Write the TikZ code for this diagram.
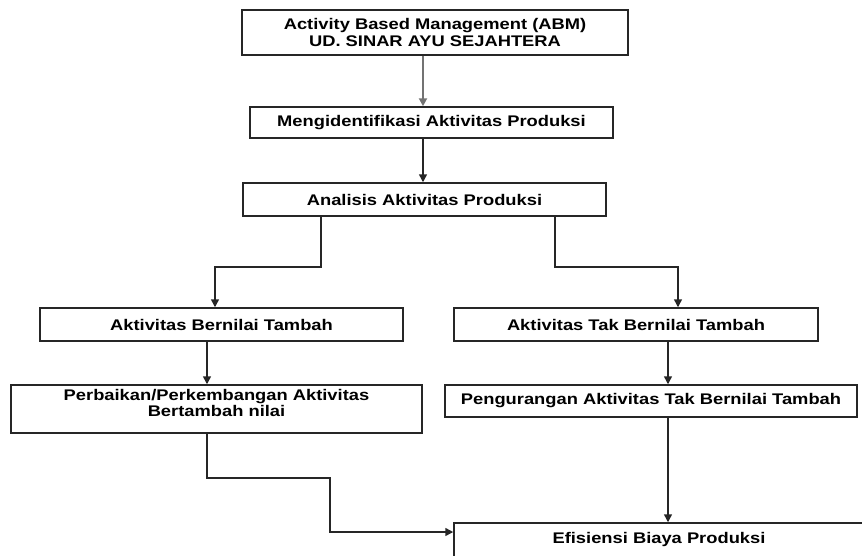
\documentclass[tikz,border=0pt]{standalone}
\usepackage{fontspec}
\setmainfont[FakeStretch=1.19]{Liberation Sans}
\usetikzlibrary{arrows.meta}

\begin{document}
\begin{tikzpicture}[x=1pt, y=-1pt,
    box/.style={draw=black!85, line width=1.5pt, align=center, inner sep=0pt,
        font=\fontsize{15.4}{16.5}\selectfont\bfseries},
    arr/.style={draw=black!85, line width=1.5pt, -{Triangle[length=8pt,width=8pt]}}]
    \useasboundingbox (0,0) rectangle (862,555);
    \clip (0,0) rectangle (862,555);
    \node[box, minimum width=386pt, minimum height=45pt] (abm) at (435,32.5)
        {Activity Based Management (ABM)\\UD. SINAR AYU SEJAHTERA};
    \node[box, minimum width=363pt, minimum height=31pt] (identifikasi) at (431.5,122.5)
        {Mengidentifikasi Aktivitas Produksi};
    \node[box, minimum width=363pt, minimum height=33pt] (analisis) at (424.5,199.5)
        {Analisis Aktivitas Produksi};
    \node[box, minimum width=363pt, minimum height=33pt] (bernilai) at (221.5,324.5)
        {Aktivitas Bernilai Tambah};
    \node[box, minimum width=364pt, minimum height=33pt] (takbernilai) at (636,324.5)
        {Aktivitas Tak Bernilai Tambah};
    \node[box, minimum width=411pt, minimum height=48pt] (perbaikan) at (216.5,409)
        {Perbaikan/Perkembangan Aktivitas\\Bertambah nilai\\[-4pt]};
    \node[box, minimum width=412pt, minimum height=32pt] (pengurangan) at (651,401)
        {Pengurangan Aktivitas Tak Bernilai Tambah};
    \node[box, minimum width=410pt, minimum height=34pt] (efisiensi) at (659,540)
        {Efisiensi Biaya Produksi};

    \draw[arr, draw=black!55, line width=2pt] ([xshift=-12pt]abm.south) -- ([xshift=-8.5pt]identifikasi.north);
    \draw[arr] ([xshift=-8.5pt]identifikasi.south) -- ([xshift=-1.5pt]analisis.north);
    \draw[arr] ([xshift=-103.5pt]analisis.south) -- ++(0,50) -| ([xshift=-6.5pt]bernilai.north);
    \draw[arr] ([xshift=130.5pt]analisis.south) -- ++(0,50) -| ([xshift=42pt]takbernilai.north);
    \draw[arr] ([xshift=-14.5pt]bernilai.south) -- ([xshift=-9.5pt]perbaikan.north);
    \draw[arr] ([xshift=32pt]takbernilai.south) -- ([xshift=17pt]pengurangan.north);
    \draw[arr] ([xshift=17pt]pengurangan.south) -- ([xshift=9pt]efisiensi.north);
    \draw[arr] ([xshift=-9.5pt]perbaikan.south) -- ++(0,44) -- ++(123,0) |- ([yshift=8pt]efisiensi.west);
\end{tikzpicture}
\end{document}
